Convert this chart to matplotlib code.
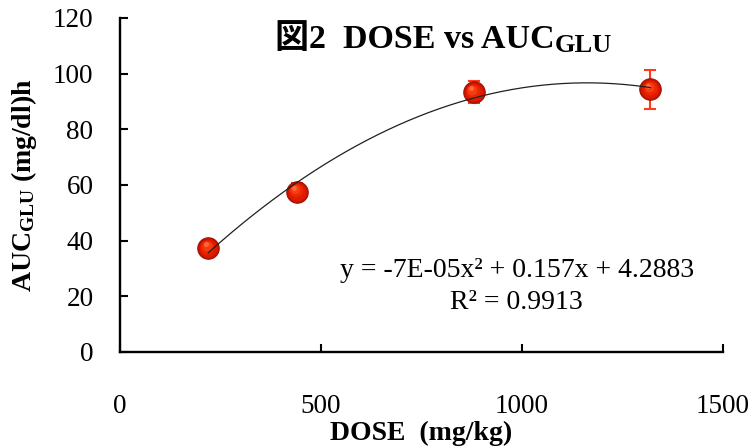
import numpy as np
import matplotlib
matplotlib.use('Agg')
import matplotlib.pyplot as plt
import matplotlib.transforms as mtransforms

plt.rcParams['font.family'] = ['Liberation Serif', 'Noto Sans CJK JP']
plt.rcParams['mathtext.fontset'] = 'custom'
plt.rcParams['mathtext.rm'] = 'Liberation Serif'
plt.rcParams['mathtext.bf'] = 'Liberation Serif:bold'

# dose groups and mean AUC of glucose with error
dose = [220, 440, 880, 1320]
auc_glu = [37.3, 57.6, 93.3, 94.3]
auc_err = [1.5, 3.0, 4.0, 7.0]

x_ticks = [0, 500, 1000, 1500]
y_ticks = [0, 20, 40, 60, 80, 100, 120]

eq_text = 'y = -7E-05x² + 0.157x + 4.2883'
r2_text = 'R² = 0.9913'

W, H = 749, 446
fig = plt.figure(figsize=(W / 100, H / 100), dpi=100)
ax = fig.add_axes([0.160, 0.211, 0.805, 0.749])

# error bars underneath the markers
ax.errorbar(dose, auc_glu, yerr=auc_err, fmt='none', ecolor='#ff3a1a',
            elinewidth=1.5, capsize=4.5, capthick=1.5, zorder=2)

# shaded red spheres
ax.plot(dose, auc_glu, 'o', ms=15.5, mfc='#c41400', mec='#9a1000', mew=0.7, zorder=3)
for k, (ms, col) in enumerate([(13.0, '#dc1a00'), (10.0, '#ec2600'), (7.0, '#f73c10'), (3.5, '#ff6a40')]):
    off = mtransforms.ScaledTranslation(-0.6 * k / 72, 0.9 * k / 72, fig.dpi_scale_trans)
    ax.plot(dose, auc_glu, 'o', ms=ms, mfc=col, mec='none', zorder=3.1 + k * 0.1,
            transform=ax.transData + off)

# second order trendline
coef = np.polyfit(dose, auc_glu, 2)
xs = np.linspace(min(dose), max(dose), 300)
ax.plot(xs, np.polyval(coef, xs), color='#202020', lw=0.9, zorder=4)

ax.set_xlim(0, 1500)
ax.set_ylim(0, 120)
ax.set_xticks(x_ticks)
ax.set_yticks(y_ticks)
ax.spines['top'].set_visible(False)
ax.spines['right'].set_visible(False)
for s in ['left', 'bottom']:
    ax.spines[s].set_linewidth(1.7)
ax.tick_params(direction='in', length=6, width=1.5, labelsize=19.5)
ax.tick_params(axis='x', pad=30)
ax.tick_params(axis='y', pad=19)

ax.set_xlabel('DOSE  (mg/kg)', fontsize=20, fontweight='bold', labelpad=2)
ax.set_ylabel(r'$\mathbf{AUC_{GLU}}$ (mg/dl)h', fontsize=20, fontweight='bold', labelpad=10)

# title in two pieces so the CJK glyph can fall back to another family
title = fig.text(275 / W, 1 - 48 / H, '図2  DOSE vs AUC', fontsize=24.5, fontweight='bold',
                 ha='left', va='baseline')
fig.canvas.draw()
tb = title.get_window_extent()
fig.text(tb.x1 / W, 1 - 52 / H, 'GLU', fontsize=19, fontweight='bold', ha='left', va='baseline')

ax.text(0.658, 0.245, eq_text, transform=ax.transAxes, fontsize=20, ha='center', va='center')
ax.text(0.658, 0.147, r2_text, transform=ax.transAxes, fontsize=20, ha='center', va='center')

fig.savefig('out.png', dpi=100)
